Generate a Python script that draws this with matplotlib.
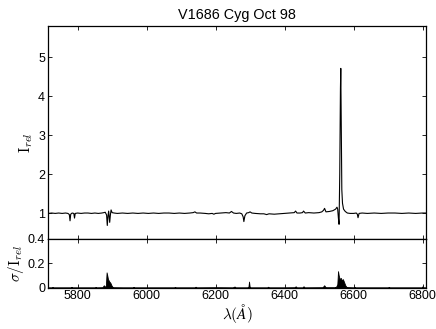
import numpy as np
import matplotlib.pyplot as plt

plt.rcParams['font.family'] = ['Liberation Sans', 'DejaVu Sans']
plt.rcParams['mathtext.fontset'] = 'cm'
plt.rcParams['font.size'] = 9

# spectrum (wavelength in A, relative intensity)
wl = [5715, 5725, 5735, 5745, 5755, 5765, 5772, 5776, 5778, 5780, 5784, 5789, 5791, 5793,
      5800, 5810, 5820, 5830, 5840, 5850, 5860, 5870, 5876, 5880, 5884, 5886, 5888, 5890,
      5892, 5893, 5895, 5897, 5900, 5906, 5915, 5930, 5945, 5960, 5975, 5990, 6005, 6020,
      6035, 6050, 6065, 6080, 6095, 6110, 6125, 6135, 6140, 6145, 6155, 6170, 6180, 6190,
      6195, 6200, 6215, 6230, 6240, 6246, 6252, 6260, 6270, 6276, 6280, 6282, 6285, 6290,
      6296, 6300, 6305, 6315, 6330, 6340, 6348, 6355, 6370, 6385, 6400, 6415, 6428, 6432,
      6436, 6445, 6452, 6455, 6460, 6470, 6485, 6500, 6508, 6513, 6516, 6520, 6530, 6540,
      6548, 6552, 6554, 6556, 6558, 6560, 6562, 6563, 6564.5, 6566, 6568, 6571, 6576, 6582,
      6590, 6600, 6608, 6611, 6613, 6616, 6625, 6640, 6660, 6680, 6700, 6720, 6740, 6760,
      6780, 6800, 6810]
flux = [0.99, 1.0, 0.99, 1.0, 0.99, 1.0, 0.99, 0.96, 0.80, 0.97, 1.0, 0.99, 0.87, 0.99,
        1.0, 0.99, 1.0, 1.0, 0.99, 1.0, 0.99, 1.0, 1.01, 1.02, 0.95, 0.68, 0.92, 1.05,
        0.85, 0.76, 0.95, 1.08, 1.01, 1.0, 0.99, 1.0, 0.99, 1.0, 0.99, 1.0, 0.99, 1.0,
        0.99, 1.0, 1.0, 0.99, 1.0, 0.99, 1.0, 1.01, 1.03, 1.0, 1.0, 0.99, 0.98, 0.99,
        0.97, 0.99, 1.0, 1.01, 1.0, 1.04, 1.0, 0.99, 1.0, 0.98, 0.90, 0.78, 0.93, 1.0,
        1.01, 1.03, 1.0, 0.99, 0.98, 0.98, 0.96, 0.98, 0.97, 0.98, 0.99, 1.0, 1.01, 1.05,
        1.0, 1.0, 1.01, 1.05, 1.0, 1.01, 1.0, 1.01, 1.03, 1.07, 1.12, 1.03, 1.04, 1.06,
        1.10, 1.15, 1.1, 0.88, 0.71, 2.0, 4.2, 4.72, 3.0, 1.6, 1.25, 1.1, 1.04, 1.0,
        0.99, 0.99, 1.0, 0.97, 0.88, 0.99, 1.0, 0.99, 1.0, 0.99, 1.0, 1.0, 0.99, 1.0,
        0.99, 1.0, 1.0]

# relative uncertainty
wl_s = [5715, 5725, 5727, 5730, 5760, 5780, 5782, 5785, 5830, 5850, 5852, 5855, 5872,
        5876, 5879, 5882, 5884, 5886, 5888, 5890, 5892, 5895, 5898, 5902, 5930, 5960,
        5962, 5965, 6020, 6080, 6082, 6085, 6140, 6142, 6145, 6200, 6250, 6255, 6258,
        6290, 6295, 6297, 6299, 6302, 6350, 6352, 6355, 6400, 6430, 6432, 6435, 6452,
        6455, 6458, 6510, 6515, 6519, 6545, 6550, 6553, 6555, 6557, 6560, 6563, 6566,
        6569, 6572, 6576, 6580, 6600, 6602, 6605, 6650, 6700, 6702, 6705, 6760, 6798,
        6800, 6803, 6810]
sig = [0.002, 0.002, 0.006, 0.002, 0.002, 0.002, 0.007, 0.002, 0.002, 0.002, 0.006, 0.002, 0.003,
       0.02, 0.005, 0.02, 0.125, 0.10, 0.07, 0.06, 0.05, 0.04, 0.02, 0.003, 0.002, 0.002,
       0.007, 0.002, 0.002, 0.002, 0.006, 0.002, 0.002, 0.008, 0.002, 0.003, 0.002, 0.01, 0.002,
       0.002, 0.003, 0.05, 0.003, 0.002, 0.002, 0.008, 0.002, 0.002, 0.003, 0.012, 0.002, 0.002,
       0.012, 0.002, 0.003, 0.02, 0.003, 0.003, 0.01, 0.03, 0.135, 0.10, 0.07, 0.08, 0.06,
       0.07, 0.05, 0.02, 0.004, 0.002, 0.008, 0.002, 0.002, 0.002, 0.006, 0.002, 0.002, 0.002,
       0.012, 0.002, 0.002]

xticks = [5800, 6000, 6200, 6400, 6600, 6800]

fig = plt.figure(figsize=(4.36, 3.29), dpi=100)
ax1 = fig.add_axes([0.110, 0.2745, 0.867, 0.6465])
ax2 = fig.add_axes([0.110, 0.1255, 0.867, 0.149])

ax1.plot(wl, flux, color='k', lw=0.8)
ax1.set_xlim(5714, 6810)
ax1.set_ylim(0.34, 5.81)
ax1.set_yticks([1, 2, 3, 4, 5])
ax1.set_xticks(xticks)
ax1.set_xticklabels([])
ax1.set_ylabel(r'$\mathrm{I}_{rel}$', fontsize=11)
ax1.yaxis.set_label_coords(-0.035, 0.45)
ax1.set_title('V1686 Cyg Oct 98', fontsize=10.4, pad=5)

ax2.fill_between(wl_s, sig, 0, color='k', lw=0.6)
ax2.set_xlim(5714, 6810)
ax2.set_ylim(0, 0.4)
ax2.set_yticks([0, 0.2, 0.4])
ax2.set_yticklabels(['0', '0.2', '0.4'])
ax2.set_xticks(xticks)
ax2.set_xlabel(r'$\lambda(\AA)$', fontsize=11, labelpad=0)
ax2.set_ylabel(r'$\sigma/\mathrm{I}_{rel}$', fontsize=11, labelpad=1)

for ax in (ax1, ax2):
    ax.tick_params(direction='in', top=True, right=True, length=3, width=0.6, pad=2)
    for s in ax.spines.values():
        s.set_linewidth(0.9)

fig.savefig('out.png', dpi=100)
